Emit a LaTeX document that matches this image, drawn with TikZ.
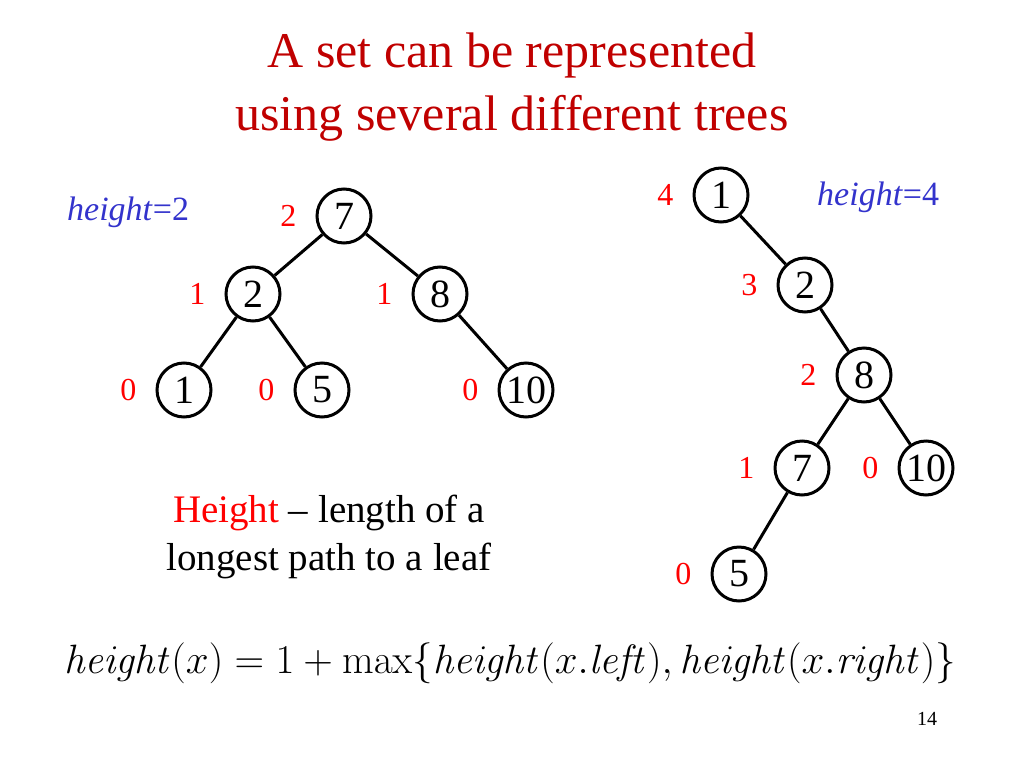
\RequirePackage{fix-cm}
\documentclass[tikz,border=0pt]{standalone}
\usepackage[no-math]{fontspec}
\setmainfont{Liberation Serif}
\usepackage{tikz}
\usetikzlibrary{positioning}

\definecolor{titlered}{RGB}{192,0,0}
\definecolor{hblue}{RGB}{51,51,204}

\begin{document}
\begin{tikzpicture}[x=1pt,y=-1pt,label distance=19pt,
    vertex/.style={circle, draw, line width=3pt, minimum size=54pt, inner sep=0pt, font=\fontsize{40}{40}\selectfont},
    hnum/.style={text=red, inner sep=0pt, font=\fontsize{32}{32}\selectfont},
    hnote/.style={anchor=base west, text=hblue, inner sep=0pt, font=\fontsize{34}{34}\selectfont},
    edge/.style={line width=3pt}]
    \useasboundingbox (0,0) rectangle (1024,768);

    \node (title) at (512,130) [anchor=base, align=center, text=titlered, font=\fontsize{50}{59}\selectfont] {A set can be represented\\[4pt]using several different trees};

    % balanced tree
    \node (hleft) at (67,220) [hnote] {\textit{height}=2};
    \node (a7) at (344,216) [vertex, label={[hnum]left:2}] {7};
    \node (a2) at (253,294) [vertex, label={[hnum]left:1}] {2};
    \node (a8) at (440,294) [vertex, label={[hnum]left:1}] {8};
    \node (a1) at (184,390) [vertex, label={[hnum]left:0}] {1};
    \node (a5) at (322,390) [vertex, label={[hnum]left:0}] {5};
    \node (a10) at (526,390) [vertex, label={[hnum]left:0}] {10};
    \draw[edge] (a7) -- (a2);
    \draw[edge] (a7) -- (a8);
    \draw[edge] (a2) -- (a1);
    \draw[edge] (a2) -- (a5);
    \draw[edge] (a8) -- (a10);

    % degenerate tree
    \node (hright) at (817,205) [hnote] {\textit{height}=4};
    \node (b1) at (721,195) [vertex, label={[hnum]left:4}] {1};
    \node (b2) at (805,285) [vertex, label={[hnum]left:3}] {2};
    \node (b8) at (864,375) [vertex, label={[hnum]left:2}] {8};
    \node (b7) at (802,468) [vertex, label={[hnum]left:1}] {7};
    \node (b10) at (926,468) [vertex, label={[hnum]left:0}] {10};
    \node (b5) at (739,574) [vertex, label={[hnum]left:0}] {5};
    \draw[edge] (b1) -- (b2);
    \draw[edge] (b2) -- (b8);
    \draw[edge] (b8) -- (b7);
    \draw[edge] (b8) -- (b10);
    \draw[edge] (b7) -- (b5);

    \node (defn) at (329,570) [anchor=base, align=center, font=\fontsize{39}{48}\selectfont] {\textcolor{red}{Height} – length of a\\longest path to a leaf};

    \node (rec) at (510,673) [anchor=base, font=\fontsize{41}{46}\selectfont] {$\mathit{height}(x) = 1 + \max\{\mathit{height}(x.\mathit{left}), \mathit{height}(x.\mathit{right})\}$};

    \node (page) at (927,725) [anchor=base, font=\fontsize{20}{20}\selectfont] {14};
\end{tikzpicture}
\end{document}
